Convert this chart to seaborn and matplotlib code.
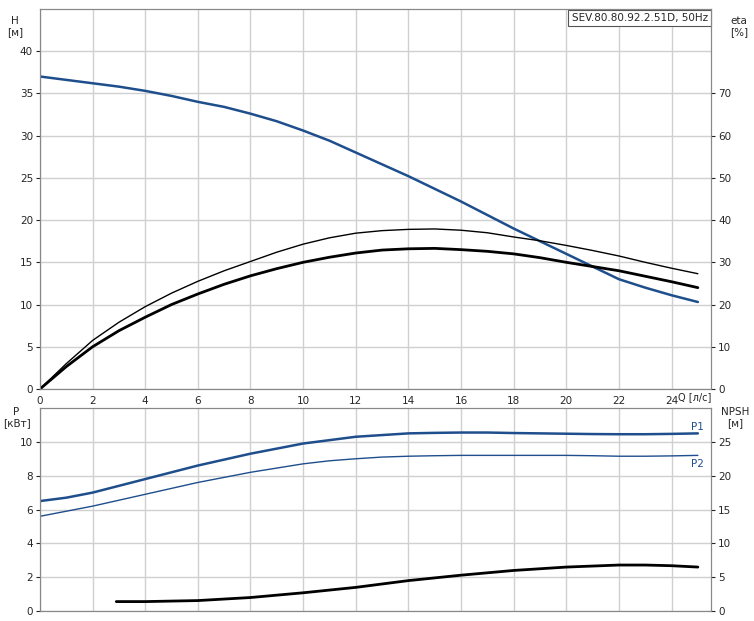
import numpy as np
import pandas as pd
import matplotlib
matplotlib.use("Agg")
import matplotlib.pyplot as plt
import seaborn as sns

# values
q = [0, 1, 2, 3, 4, 5, 6, 7, 8, 9, 10, 11, 12, 13, 14, 15, 16, 17, 18, 19, 20, 21, 22, 23, 24, 25]
head = [37.0, 36.6, 36.2, 35.8, 35.3, 34.7, 34.0, 33.4, 32.6, 31.7, 30.6, 29.4, 28.0, 26.6, 25.2, 23.7, 22.2, 20.6, 19.0, 17.5, 16.0, 14.5, 13.0, 12.0, 11.1, 10.3]
eta_pump = [0, 5.3, 10.0, 13.8, 17.0, 20.0, 22.5, 24.8, 26.8, 28.5, 30.0, 31.2, 32.2, 32.9, 33.2, 33.3, 33.0, 32.6, 32.0, 31.1, 30.0, 29.0, 28.0, 26.7, 25.4, 24.0]
eta_total = [0, 6.0, 11.5, 15.8, 19.5, 22.7, 25.5, 28.0, 30.2, 32.4, 34.3, 35.8, 36.9, 37.5, 37.8, 37.9, 37.6, 37.0, 36.0, 35.1, 34.0, 32.8, 31.5, 30.0, 28.6, 27.3]
p1 = [6.5, 6.7, 7.0, 7.4, 7.8, 8.2, 8.6, 8.95, 9.3, 9.6, 9.9, 10.1, 10.3, 10.4, 10.5, 10.53, 10.55, 10.55, 10.52, 10.5, 10.48, 10.46, 10.45, 10.45, 10.47, 10.5]
p2 = [5.6, 5.9, 6.2, 6.55, 6.9, 7.25, 7.6, 7.9, 8.2, 8.45, 8.7, 8.88, 9.0, 9.1, 9.15, 9.18, 9.2, 9.2, 9.2, 9.2, 9.2, 9.18, 9.15, 9.15, 9.17, 9.2]
q_npsh = [2.9, 4, 6, 8, 10, 12, 14, 16, 18, 20, 22, 23, 24, 25]
npsh = [1.4, 1.4, 1.55, 2.0, 2.7, 3.5, 4.5, 5.3, 6.0, 6.5, 6.8, 6.8, 6.7, 6.5]

blue = "#1f4e8c"
sns.set_style("white")
plt.rcParams["font.family"] = ["DejaVu Sans"]
plt.rcParams["font.size"] = 7.5

fig = plt.figure(figsize=(7.54, 6.21), dpi=100)
ax = fig.add_axes([0.053, 0.3736, 0.89, 0.612])
ax_eta = ax.twinx()
axp = fig.add_axes([0.053, 0.016, 0.89, 0.327])
ax_n = axp.twinx()

df = pd.DataFrame({"Q": q, "H": head, "eta": eta_pump, "eta_t": eta_total, "P1": p1, "P2": p2})
dn = pd.DataFrame({"Q": q_npsh, "NPSH": npsh})

sns.lineplot(data=df, x="Q", y="H", ax=ax, color=blue, lw=1.8)
sns.lineplot(data=df, x="Q", y="eta", ax=ax_eta, color="black", lw=2.0)
sns.lineplot(data=df, x="Q", y="eta_t", ax=ax_eta, color="black", lw=1.0)
sns.lineplot(data=df, x="Q", y="P1", ax=axp, color=blue, lw=1.8)
sns.lineplot(data=df, x="Q", y="P2", ax=axp, color=blue, lw=1.0)
sns.lineplot(data=dn, x="Q", y="NPSH", ax=ax_n, color="black", lw=2.0)

for a in (ax, axp):
    a.set_xlim(0, 25.5)
    a.set_xticks(range(0, 25, 2))
    a.grid(True, color="#d0d0d0", lw=1)
    a.set_xlabel("")
    a.set_ylabel("")
    a.set_axisbelow(True)
    a.tick_params(length=3, pad=2, labelsize=7.5)
    for s in a.spines.values():
        s.set_color("#888888")
for a in (ax_eta, ax_n):
    a.set_ylabel("")
    a.tick_params(length=3, pad=2, labelsize=7.5)
    for s in a.spines.values():
        s.set_color("#888888")

ax.set_ylim(0, 45)
ax.set_yticks(range(0, 41, 5))
ax_eta.set_ylim(0, 90)
ax_eta.set_yticks(range(0, 71, 10))
axp.set_ylim(0, 12)
axp.set_yticks(range(0, 11, 2))
axp.set_xticklabels([])
ax_n.set_ylim(0, 30)
ax_n.set_yticks(range(0, 26, 5))

fig.text(0.02, 0.975, "H\n[м]", ha="center", va="top", fontsize=7.5)
fig.text(0.98, 0.975, "eta\n[%]", ha="center", va="top", fontsize=7.5)
fig.text(0.022, 0.345, "P\n[кВт]", ha="center", va="top", fontsize=7.5)
fig.text(0.975, 0.345, "NPSH\n[м]", ha="center", va="top", fontsize=7.5)
ax.text(25.5, -0.4, "Q [л/с]", ha="right", va="top", fontsize=7, clip_on=False)
ax.text(0.995, 0.99, "SEV.80.80.92.2.51D, 50Hz", transform=ax.transAxes, ha="right", va="top",
        fontsize=7.5, bbox=dict(boxstyle="square,pad=0.3", fc="white", ec="#555555", lw=0.8))
axp.text(25, 10.6, "P1", color=blue, ha="center", va="bottom", fontsize=7.5)
axp.text(25, 9.0, "P2", color=blue, ha="center", va="top", fontsize=7.5)

fig.savefig("out.png", dpi=100)
